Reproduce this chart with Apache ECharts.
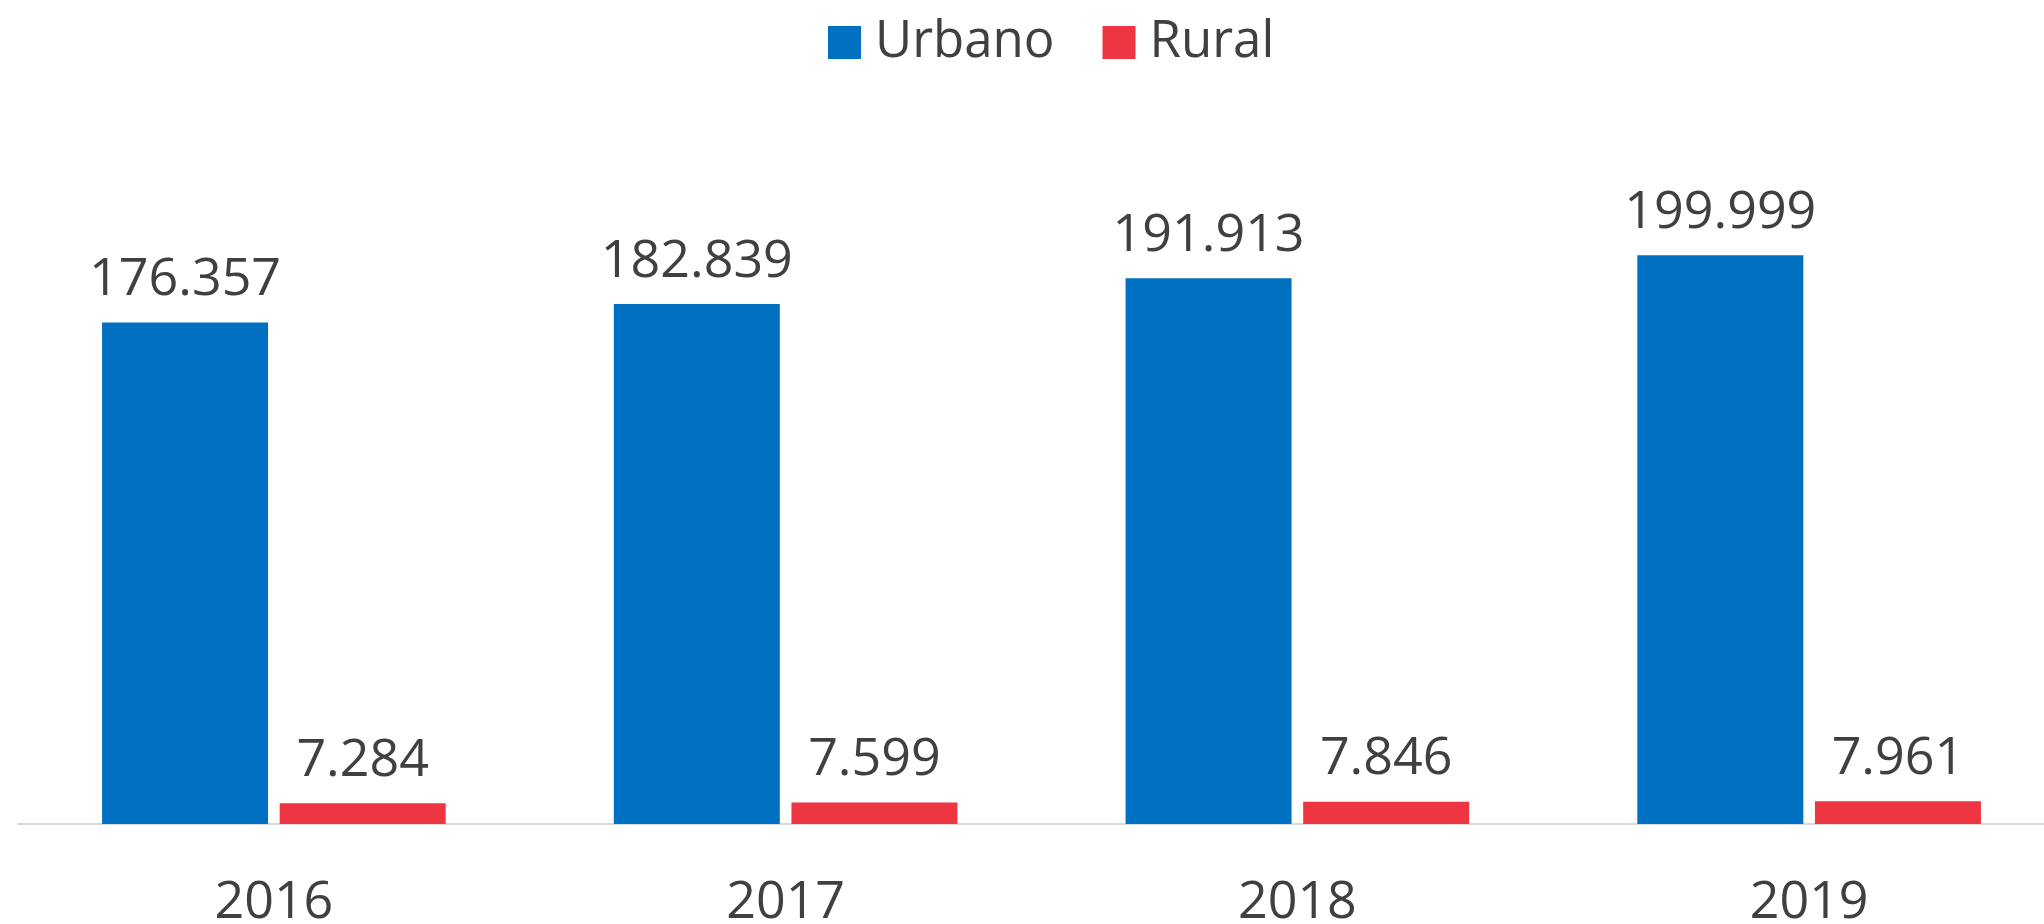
<!DOCTYPE html>
<html>
<head>
<meta charset="utf-8">
<script src="https://cdn.jsdelivr.net/npm/echarts@6/dist/echarts.min.js"></script>
<style>
html,body{margin:0;padding:0;background:#fff;}
#chart{width:2044px;height:924px;}
</style>
</head>
<body>
<div id="chart"></div>
<script>
const categories = ['2016', '2017', '2018', '2019'];
const urbano = [176357, 182839, 191913, 199999];
const rural = [7284, 7599, 7846, 7961];
const seriesNames = ['Urbano', 'Rural'];

const FONT = 'Open Sans';
const TEXT = '#404040';

function fmt(v) {
  return String(v).replace(/\B(?=(\d{3})+(?!\d))/g, '.');
}

const chart = echarts.init(document.getElementById('chart'));
chart.setOption({
  backgroundColor: '#ffffff',
  animation: false,
  legend: {
    data: seriesNames,
    left: 823,
    top: 12,
    itemWidth: 33,
    itemHeight: 33,
    itemGap: 48,
    icon: 'rect',
    textStyle: { fontFamily: FONT, fontSize: 51, color: TEXT, padding: [0, 0, 0, 9] }
  },
  grid: { left: 18, width: 2047, top: 113, bottom: 100, containLabel: false, outerBoundsMode: 'none' },
  xAxis: {
    type: 'category',
    data: categories,
    axisLine: { show: true, lineStyle: { color: '#D9D9D9', width: 2 } },
    axisTick: { show: false },
    axisLabel: { fontFamily: FONT, fontSize: 52, color: TEXT, margin: 53 }
  },
  yAxis: {
    type: 'value',
    min: 0,
    max: 250000,
    show: false,
    splitLine: { show: false }
  },
  series: [
    {
      name: seriesNames[0],
      type: 'bar',
      data: urbano,
      barWidth: 166,
      barGap: '7%',
      itemStyle: { color: '#0070C0' },
      label: {
        show: true, position: 'top', distance: 16,
        fontFamily: FONT, fontSize: 52, color: TEXT,
        formatter: p => fmt(p.value)
      }
    },
    {
      name: seriesNames[1],
      type: 'bar',
      data: rural,
      barWidth: 166,
      barGap: '7%',
      itemStyle: { color: '#EE3542' },
      label: {
        show: true, position: 'top', distance: 16,
        fontFamily: FONT, fontSize: 52, color: TEXT,
        formatter: p => fmt(p.value)
      }
    }
  ]
});
</script>
</body>
</html>
